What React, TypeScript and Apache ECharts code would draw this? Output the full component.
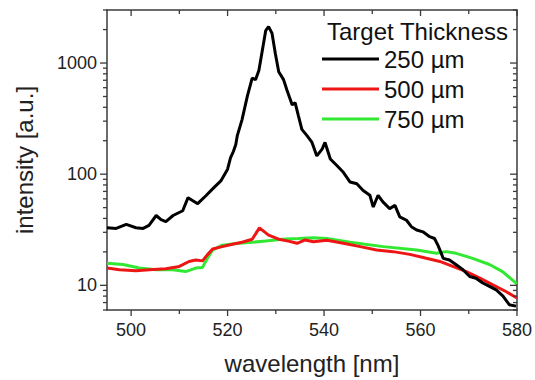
import React, { useEffect, useRef } from "react";
import * as echarts from "echarts";

// ---- data ----
const wl250 = [495, 496.9, 499.0, 501.0, 502.5, 503.7, 505.2, 506.2, 507.2, 508.7, 510.7, 511.8, 513.8, 515.5, 516.9, 518.6, 520.0, 520.6, 521.2, 521.7, 522.0, 523.0, 524.1, 525.1, 525.8, 526.5, 527.2, 527.9, 528.5, 529.2, 529.9, 530.6, 531.6, 532.3, 533.4, 534.0, 534.7, 535.4, 536.5, 537.5, 538.5, 539.6, 540.2, 541.3, 542.7, 544.0, 545.4, 546.8, 548.1, 549.5, 550.2, 551.2, 552.2, 553.6, 554.7, 555.7, 557.1, 558.1, 559.2, 560.5, 561.9, 562.9, 563.6, 564.3, 564.7, 566.0, 567.4, 568.8, 570.2, 571.5, 572.9, 574.3, 575.7, 577.1, 578.4, 579.8];
const int250 = [33.0, 32.5, 35.3, 33.0, 32.5, 34.6, 42.5, 39.0, 37.5, 42.5, 46.9, 61.5, 54.3, 64.0, 73.7, 87, 111, 140, 160, 185, 221, 310, 504, 732, 709, 863, 1299, 1956, 2125, 1860, 1220, 834, 709, 573, 420, 440, 333, 253, 221, 193, 146, 168, 193, 137, 119, 104, 85, 82, 71.4, 64.6, 50.7, 64.6, 56.3, 49.0, 52.4, 41.3, 38.5, 33.7, 31.5, 30.3, 27.4, 26.4, 23.0, 19.4, 17.5, 16.9, 15.3, 13.8, 12.0, 11.6, 10.5, 9.8, 9.1, 8.0, 6.7, 6.5];

const wl500 = [495, 497.6, 501.0, 503.8, 507.2, 510.0, 512.0, 513.4, 514.8, 515.8, 516.9, 518.9, 521.0, 523.0, 525.1, 526.6, 528.5, 530.6, 532.6, 534.4, 536.1, 537.8, 540.6, 544.0, 547.5, 550.9, 554.3, 557.8, 561.2, 564.0, 566.7, 569.5, 572.3, 575.0, 577.7, 580];
const int500 = [14.3, 13.8, 13.5, 13.8, 14.1, 14.8, 16.4, 16.9, 16.6, 18.8, 21.2, 22.3, 23.4, 24.4, 26.0, 32.9, 28.3, 26.0, 25.0, 23.9, 25.6, 24.7, 25.5, 23.9, 22.3, 20.8, 20.1, 19.0, 17.5, 16.4, 14.8, 13.3, 11.6, 10.1, 8.8, 7.7];

const wl750 = [495, 498.3, 501.7, 505.2, 508.6, 511.3, 513.4, 514.8, 515.8, 516.9, 518.9, 522.3, 525.1, 527.9, 531.3, 534.7, 537.8, 540.6, 545.4, 552.3, 559.2, 563.3, 565.3, 567.4, 570.8, 574.3, 577.0, 580];
const int750 = [15.8, 15.4, 14.3, 13.8, 13.8, 13.3, 14.3, 14.5, 17.5, 20.8, 23.0, 23.9, 24.4, 25.0, 26.0, 26.4, 26.8, 26.4, 24.4, 22.3, 20.8, 19.4, 20.1, 19.4, 17.5, 15.4, 13.3, 10.3];

const seriesNames = ["250 µm", "500 µm", "750 µm"];
const legendTitle = "Target Thickness";

const xLabelValues = [500, 520, 540, 560, 580];
const xMinorTicks = [510, 530, 550, 570];
const yLabelValues = [10, 100, 1000];
const yMinorTicks = [6, 7, 8, 9, 20, 30, 40, 50, 60, 70, 80, 90, 200, 300, 400, 500, 600, 700, 800, 900, 2000, 3000];

const X_MIN = 495;
const X_MAX = 580;
const Y_MIN = 6;
const Y_MAX = 3000;

const FONT = '"Liberation Sans", Arial, Helvetica, sans-serif';
const AXIS_COLOR = "#3a3a3a";
const TEXT_COLOR = "#222";

export default function App() {
  const ref = useRef<HTMLDivElement>(null);

  useEffect(() => {
    document.body.style.margin = "0";
    if (!ref.current) return;
    const chart = echarts.init(ref.current, null, { renderer: "svg" });

    const pairs = (xs: number[], ys: number[]) => xs.map((x, i) => [x, ys[i]]);

    // tick data: [x, y, kind(0=y tick,1=x tick), major(1/0)]
    const tickData: number[][] = [];
    yLabelValues.forEach((v) => tickData.push([X_MIN, v, 0, 1]));
    yMinorTicks.forEach((v) => tickData.push([X_MIN, v, 0, 0]));
    xLabelValues.forEach((v) => tickData.push([v, Y_MIN, 1, 1]));
    xMinorTicks.forEach((v) => tickData.push([v, Y_MIN, 1, 0]));

    const lineStyle = { stroke: AXIS_COLOR, lineWidth: 1.3 };

    const axisLine = { show: true, lineStyle: { color: AXIS_COLOR, width: 1.5 } };

    chart.setOption({
      animation: false,
      backgroundColor: "#fff",
      grid: { left: 107, right: 17, top: 10, bottom: 68, containLabel: false },
      xAxis: [
        {
          type: "value",
          min: X_MIN,
          max: X_MAX,
          position: "bottom",
          axisLine,
          axisTick: { show: false },
          splitLine: { show: false },
          axisLabel: {
            margin: 11,
            color: TEXT_COLOR,
            fontSize: 18,
            fontFamily: FONT,
            showMinLabel: false,
            formatter: (v: number) => (xLabelValues.includes(Math.round(v)) ? String(Math.round(v)) : ""),
          },
          name: "wavelength [nm]",
          nameLocation: "middle",
          nameGap: 41,
          nameTextStyle: { fontSize: 24, color: TEXT_COLOR, fontFamily: FONT },
        },
        {
          type: "value",
          min: X_MIN,
          max: X_MAX,
          position: "top",
          axisLine,
          axisTick: { show: false },
          axisLabel: { show: false },
          splitLine: { show: false },
        },
      ],
      yAxis: [
        {
          type: "log",
          logBase: 10,
          min: Y_MIN,
          max: Y_MAX,
          position: "left",
          axisLine,
          axisTick: { show: false },
          splitLine: { show: false },
          axisLabel: {
            margin: 10,
            color: TEXT_COLOR,
            fontSize: 18,
            fontFamily: FONT,
            formatter: (v: number) => {
              const r = Math.round(v);
              return yLabelValues.includes(r) && Math.abs(v - r) < 1e-6 * r + 1e-6 ? String(r) : "";
            },
          },
          name: "intensity [a.u.]",
          nameLocation: "middle",
          nameGap: 71,
          nameTextStyle: { fontSize: 24, color: TEXT_COLOR, fontFamily: FONT },
        },
        {
          type: "log",
          logBase: 10,
          min: Y_MIN,
          max: Y_MAX,
          position: "right",
          axisLine,
          axisTick: { show: false },
          axisLabel: { show: false },
          splitLine: { show: false },
        },
      ],
      legend: {
        data: seriesNames,
        orient: "vertical",
        left: 317,
        top: 42,
        itemWidth: 57,
        itemHeight: 3,
        itemGap: 6,
        icon: "rect",
        padding: 5,
        textStyle: { fontSize: 24, lineHeight: 24, color: "#111", fontFamily: FONT },
        selectedMode: false,
      },
      graphic: [
        {
          type: "text",
          left: 327,
          top: 19,
          style: { text: legendTitle, font: `24px ${FONT}`, fill: "#111" },
        },
      ],
      series: [
        {
          name: seriesNames[2],
          type: "line",
          data: pairs(wl750, int750),
          showSymbol: false,
          symbol: "none",
          color: "#33e833",
          lineStyle: { width: 3, color: "#33e833" },
          z: 2,
        },
        {
          name: seriesNames[1],
          type: "line",
          data: pairs(wl500, int500),
          showSymbol: false,
          symbol: "none",
          color: "#ee1515",
          lineStyle: { width: 3, color: "#ee1515" },
          z: 3,
        },
        {
          name: seriesNames[0],
          type: "line",
          data: pairs(wl250, int250),
          showSymbol: false,
          symbol: "none",
          color: "#000000",
          lineStyle: { width: 3, color: "#000000" },
          z: 4,
        },
        {
          name: "ticks",
          type: "custom",
          clip: false,
          silent: true,
          z: 5,
          data: tickData,
          renderItem: (_params: any, api: any) => {
            const kind = api.value(2);
            const major = api.value(3) === 1;
            if (kind === 0) {
              const v = api.value(1);
              const p0 = api.coord([X_MIN, v]);
              const p1 = api.coord([X_MAX, v]);
              const len = major ? 7 : 4;
              return {
                type: "group",
                children: [
                  { type: "line", shape: { x1: p0[0] - len, y1: p0[1], x2: p0[0], y2: p0[1] }, style: lineStyle },
                  { type: "line", shape: { x1: p1[0], y1: p1[1], x2: p1[0] - len, y2: p1[1] }, style: lineStyle },
                ],
              };
            }
            const v = api.value(0);
            const pb = api.coord([v, Y_MIN]);
            const pt = api.coord([v, Y_MAX]);
            const len = major ? 6 : 4;
            return {
              type: "group",
              children: [
                { type: "line", shape: { x1: pb[0], y1: pb[1], x2: pb[0], y2: pb[1] + len }, style: lineStyle },
                { type: "line", shape: { x1: pt[0], y1: pt[1], x2: pt[0], y2: pt[1] + len }, style: lineStyle },
              ],
            };
          },
        },
      ],
    });

    return () => chart.dispose();
  }, []);

  return <div ref={ref} style={{ width: 535, height: 380 }} />;
}
